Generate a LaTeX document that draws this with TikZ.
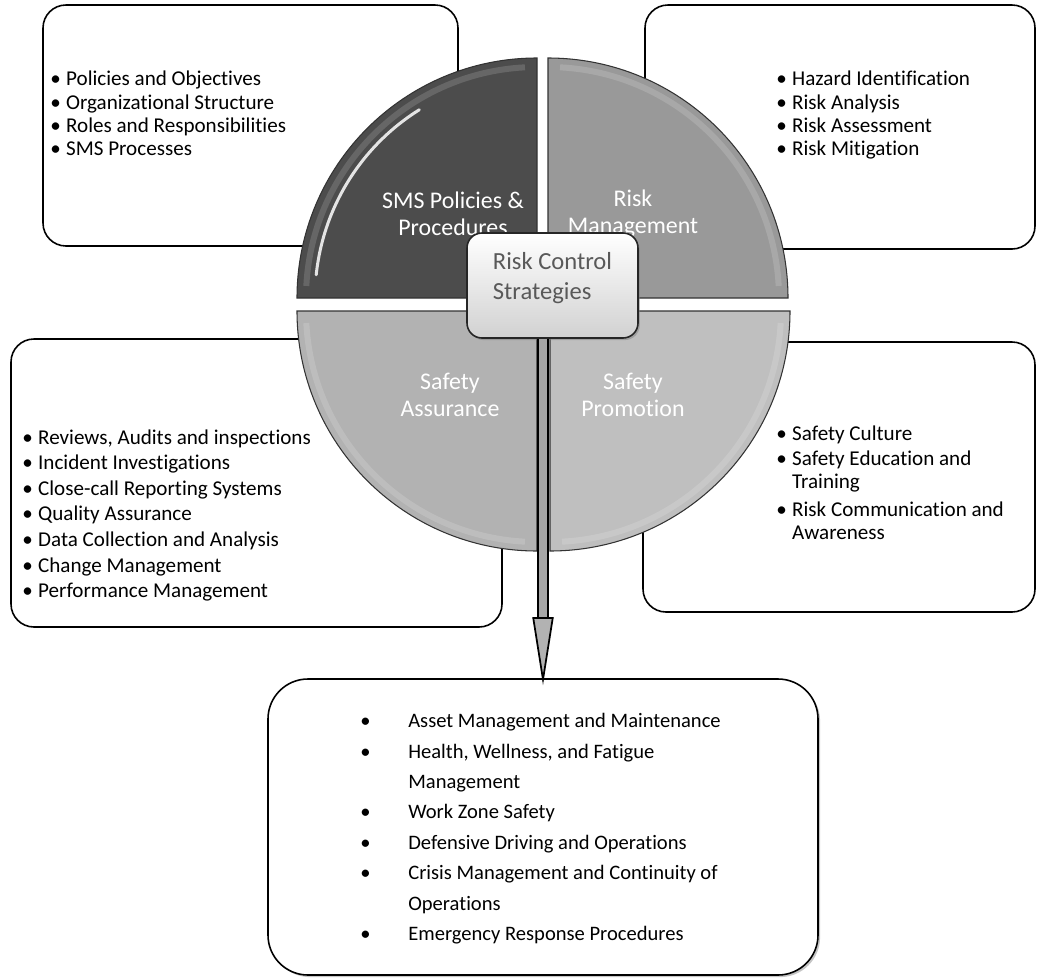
\documentclass[tikz,border=0pt]{standalone}
\usepackage{fontspec}
\setmainfont[Ligatures=NoCommon]{Carlito}
\usepackage{xcolor}
\usetikzlibrary{arrows.meta, positioning, calc, shadows}

\newcommand{\bul}{\makebox[9pt][l]{•}}
\newcommand{\wbul}{\makebox[27.3pt][l]{•}}

\tikzset{
  panel/.style={draw=black, line width=0.9pt, fill=white, rounded corners=4.6mm, inner sep=0pt},
  bigpanel/.style={panel, rounded corners=8mm, drop shadow={shadow xshift=1.2pt, shadow yshift=-1.2pt, fill=black!45}},
  itemlist/.style={anchor=north west, align=left, inner sep=0pt, font=\fontsize{12}{13.1}\selectfont},
  quad/.style={draw=black!80, line width=0.6pt},
  gloss/.style={white, line width=1.2mm, opacity=0.15},
  streak/.style={white, line width=0.6mm, opacity=0.85, line cap=round},
  quadlabel/.style={text=white, align=center, font=\fontsize{13.6}{15.4}\selectfont},
  hub/.style={draw=black!85, line width=0.9pt, rounded corners=3mm, top color=white, bottom color=black!18,
    minimum width=34.2mm, minimum height=21mm, align=left, text=black!65, font=\fontsize{14}{17}\selectfont,
    drop shadow={shadow xshift=1pt, shadow yshift=-1.2pt, fill=black!50}},
  flow/.style={double=black!35, double distance=1.6mm, line width=0.35mm, shorten >=-1.4mm,
    -{Triangle[length=13.6mm, width=4.2mm, fill=black!30]}}
}

\begin{document}
\begin{tikzpicture}[x=0.2mm, y=-0.2mm]
  \useasboundingbox (0,0) rectangle (1037,978);

  % ---------- Boxes around the wheel ----------
  \node[panel, minimum width=83mm, minimum height=48.2mm] (pol) at (250.5,125.5) {};
  \node[panel, minimum width=78mm, minimum height=48.8mm] (risk) at (840,127) {};
  \node[panel, minimum width=98.2mm, minimum height=57.6mm] (assur) at (256.5,483) {};
  \node[panel, minimum width=78.4mm, minimum height=54mm] (promo) at (839,477) {};
  \node[bigpanel, minimum width=110mm, minimum height=59.2mm] (ctrl) at (543,827) {};

  % lists
  \node[itemlist] (polL) at (50,71) {\bul Policies and Objectives\\ \bul Organizational Structure\\
    \bul Roles and Responsibilities\\ \bul SMS Processes};
  \node[itemlist] (riskL) at (776,71) {\bul Hazard Identification\\ \bul Risk Analysis\\
    \bul Risk Assessment\\ \bul Risk Mitigation};
  \node[itemlist, font=\fontsize{12}{14.6}\selectfont] (assurL) at (22,429) {\bul Reviews, Audits and inspections\\
    \bul Incident Investigations\\ \bul Close-call Reporting Systems\\ \bul Quality Assurance\\
    \bul Data Collection and Analysis\\ \bul Change Management\\ \bul Performance Management};
  \node[itemlist] (promoL) at (776,425.5) {\bul Safety Culture\\[1.2pt] \bul Safety Education and\\
    \hspace*{9pt}Training\\[2.7pt] \bul Risk Communication and\\ \hspace*{9pt}Awareness};
  \node[itemlist, font=\fontsize{11.7}{17.3}\selectfont] (ctrlL) at (360,713) {\wbul Asset Management and Maintenance\\
    \wbul Health, Wellness, and Fatigue\\ \hspace*{27.3pt}Management\\ \wbul Work Zone Safety\\
    \wbul Defensive Driving and Operations\\ \wbul Crisis Management and Continuity of\\
    \hspace*{27.3pt}Operations\\ \wbul Emergency Response Procedures};

  % ---------- Wheel ----------
  \coordinate (tlc) at (537,298);
  \coordinate (trc) at (548,298);
  \coordinate (blc) at (537,311);
  \coordinate (brc) at (550,311);
  \draw[quad, fill=black!70] (tlc) -- ++(0,-240) arc[start angle=270, end angle=180, radius=240] -- cycle;
  \draw[quad, fill=black!40] (trc) -- ++(0,-240) arc[start angle=270, end angle=360, radius=240] -- cycle;
  \draw[quad, fill=black!30] (blc) -- ++(-240,0) arc[start angle=180, end angle=90, radius=240] -- cycle;
  \draw[quad, fill=black!25] (brc) -- ++(240,0) arc[start angle=0, end angle=90, radius=240] -- cycle;
  % rim highlights
  \draw[gloss] ($(tlc)+(183:231)$) arc[start angle=183, end angle=267, radius=231];
  \draw[gloss] ($(trc)+(273:231)$) arc[start angle=273, end angle=357, radius=231];
  \draw[gloss] ($(blc)+(93:231)$) arc[start angle=93, end angle=177, radius=231];
  \draw[gloss] ($(brc)+(3:231)$) arc[start angle=3, end angle=87, radius=231];
  \draw[streak] ($(tlc)+(186:222)$) arc[start angle=186, end angle=238, radius=222];

  \node[quadlabel] (smsq) at (453,213.5) {SMS Policies \&\\Procedures};
  \node[quadlabel] (riskq) at (633,213.5) {Risk\\Management};
  \node[quadlabel] (assurq) at (450,395) {Safety\\Assurance};
  \node[quadlabel] (promoq) at (633,395) {Safety\\Promotion};

  % ---------- Centre and arrow ----------
  \node[hub, text depth=10.5pt, inner ysep=0pt] (rcs) at (552.5,285.5) {Risk Control\\Strategies};
  \draw[flow] (rcs.south -| ctrl.north) -- (ctrl.north);

\end{tikzpicture}
\end{document}
